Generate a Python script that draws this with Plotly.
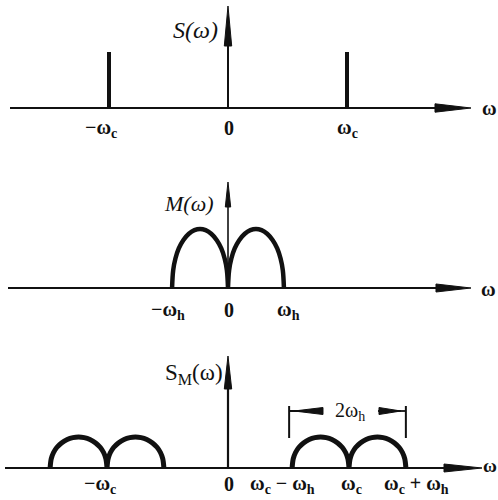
import plotly.graph_objects as go

W, H = 498, 500

# ---------------- data ----------------
wc = 1.0            # carrier frequency
wh = 0.47           # highest message frequency
carrier_freqs = [-wc, wc]
carrier_amps = [1.0, 1.0]
# sampled profile of one message lobe: fraction of wh -> relative height
lobe_u = [0, 0.02, 0.06, 0.12, 0.2, 0.3, 0.4, 0.5, 0.6, 0.7, 0.8, 0.88, 0.94, 0.98, 1.0]
lobe_h = [0, 0.30, 0.50, 0.67, 0.81, 0.92, 0.98, 1.0, 0.98, 0.92, 0.81, 0.67, 0.50, 0.30, 0]
msg_amp = 1.0
dsb_amp = 0.5

top_ticks = [(-wc, "−ω<sub>c</sub>"), (0, "0"), (wc, "ω<sub>c</sub>")]
mid_ticks = [(-wh, "−ω<sub>h</sub>"), (0, "0"), (wh, "ω<sub>h</sub>")]
bot_ticks = [(-wc, "−ω<sub>c</sub>"), (0, "0"), (wc - wh, "ω<sub>c</sub> − ω<sub>h</sub>"),
             (wc, "ω<sub>c</sub>"), (wc + wh, "ω<sub>c</sub> + ω<sub>h</sub>")]

# ---------------- layout helpers ----------------
def px(x):
    return x / W

def py(y):
    return 1 - y / H

X0 = 228  # pixel of omega = 0
panels = {
    # name: (top px, bottom px, baseline px, y px/unit, x px/unit)
    "1": (0, 150, 108, 56, 119),
    "2": (150, 330, 288, 59, 119),
    "3": (330, 500, 468, 62, 121),
}

fig = go.Figure()
BLACK = "#111111"

# top: carrier spikes
sx, sy = [], []
for f, a in zip(carrier_freqs, carrier_amps):
    sx += [f, f, None]
    sy += [0, a, None]
fig.add_trace(go.Scatter(x=sx, y=sy, mode="lines", line=dict(color=BLACK, width=4),
                         xaxis="x", yaxis="y", hoverinfo="skip"))

# middle: message spectrum M(w)
mx = [-wh + u * wh for u in lobe_u] + [u * wh for u in lobe_u]
my = [msg_amp * h for h in lobe_h] + [msg_amp * h for h in lobe_h]
fig.add_trace(go.Scatter(x=mx, y=my, mode="lines", line=dict(color=BLACK, width=4.5, shape="spline"),
                         xaxis="x2", yaxis="y2", hoverinfo="skip"))

# bottom: DSB spectrum
for c in carrier_freqs:
    bx = [c - wh + u * wh for u in lobe_u] + [c + u * wh for u in lobe_u]
    by = [dsb_amp * h for h in lobe_h] + [dsb_amp * h for h in lobe_h]
    fig.add_trace(go.Scatter(x=bx, y=by, mode="lines", line=dict(color=BLACK, width=5, shape="spline"),
                             xaxis="x3", yaxis="y3", hoverinfo="skip"))

layout = dict(width=W, height=H, margin=dict(l=0, r=0, t=0, b=0),
              paper_bgcolor="white", plot_bgcolor="white", showlegend=False)
for k, (T, B, b, s, sxu) in panels.items():
    suf = "" if k == "1" else k
    layout["xaxis" + suf] = dict(range=[-X0 / sxu, (W - X0) / sxu], domain=[0, 1], visible=False,
                                 anchor="y" + suf, fixedrange=True)
    layout["yaxis" + suf] = dict(range=[-(B - b) / s, (b - T) / s], domain=[py(B), py(T)],
                                 visible=False, anchor="x" + suf, fixedrange=True)
fig.update_layout(**layout)

shapes = []
def line_px(x0, y0, x1, y1, w=2):
    shapes.append(dict(type="line", xref="paper", yref="paper", x0=px(x0), y0=py(y0),
                       x1=px(x1), y1=py(y1), line=dict(color=BLACK, width=w)))

def tri_px(pts):
    path = "M " + " L ".join(f"{px(a):.5f},{py(b):.5f}" for a, b in pts) + " Z"
    shapes.append(dict(type="path", xref="paper", yref="paper", path=path,
                       fillcolor=BLACK, line=dict(color=BLACK, width=1)))

# axes with arrowheads
# top
line_px(10, 108, 440, 108, 2)
tri_px([(435, 103.8), (471, 108), (435, 112.2)])
line_px(X0, 108, X0, 40, 2)
tri_px([(224.3, 46), (X0, 6), (231.7, 46)])
# middle
line_px(8, 288, 440, 288, 2)
tri_px([(436, 284), (471, 288), (436, 292)])
line_px(X0, 288, X0, 200, 1.6)
tri_px([(225.3, 207), (X0, 182), (230.7, 207)])
# bottom
line_px(5, 468, 448, 468, 2)
tri_px([(444, 464), (482, 468), (444, 472)])
line_px(X0, 468, X0, 380, 2.2)
tri_px([(224.3, 389), (X0, 356), (231.7, 389)])

# dimension marker 2wh in bottom panel
s3 = panels["3"][4]
xl = X0 + (wc - wh) * s3 - 3
xr = X0 + (wc + wh) * s3
line_px(xl, 406, xl, 438, 2)
line_px(xr, 406, xr, 438, 2)
line_px(xl, 411, 322, 411, 1.8)
line_px(378, 411, xr, 411, 1.8)
tri_px([(xl + 5, 411), (323, 407.5), (323, 414.5)])
tri_px([(xr - 5, 411), (379, 407.5), (379, 414.5)])

fig.update_layout(shapes=shapes)

ann = []
FONT = "Liberation Serif"
def text_px(x, y, t, size=20, bold=True, italic=False, xanchor="center"):
    s = t
    if bold:
        s = "<b>" + s + "</b>"
    if italic:
        s = "<i>" + s + "</i>"
    ann.append(dict(x=px(x), y=py(y), xref="paper", yref="paper", text=s, showarrow=False,
                    xanchor=xanchor, yanchor="middle", font=dict(family=FONT, size=size, color=BLACK)))

# tick labels from data positions
def ticks(tlist, sxu, ypix, shifts, size=20):
    for (v, t), dx in zip(tlist, shifts):
        text_px(X0 + v * sxu + dx, ypix, t, size=size)

ticks(top_ticks, panels["1"][4], 128, [-8, 1, 0])
ticks(mid_ticks, panels["2"][4], 310, [-4, 1, 5])
ticks(bot_ticks, panels["3"][4], 484, [-7, 1, -10, 2, 11])

# axis names
text_px(480, 108, "ω", size=20, xanchor="left")
text_px(479, 289, "ω", size=20, xanchor="left")
text_px(481, 465, "ω", size=19, xanchor="left")
text_px(195, 30, "S(ω)", size=24, bold=False, italic=True)
text_px(189, 204, "M(ω)", size=22, bold=False, italic=True)
text_px(194, 374, "S<sub>M</sub>(ω)", size=23, bold=False, italic=False)
text_px(350, 411, "2ω<sub>h</sub>", size=20, bold=False)

fig.update_layout(annotations=ann)
fig.write_html("out.html")
